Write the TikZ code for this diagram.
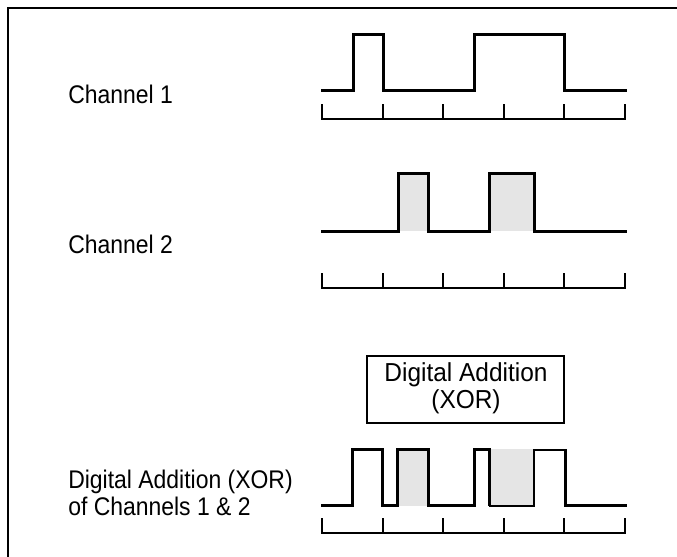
\documentclass[tikz,border=0pt]{standalone}
\usepackage{fontspec}
\setmainfont{Liberation Sans}[FakeStretch=0.9]
\newfontfamily\boxfont{Liberation Sans}[FakeStretch=0.94]
\definecolor{pulsegray}{RGB}{229,229,229}
\begin{document}
\begin{tikzpicture}[x=0.75pt,y=-0.75pt,line join=miter,
  sig/.style={line width=2.25pt},
  thinsig/.style={line width=1.3pt},
  tickline/.style={line width=1.5pt},
  frameline/.style={line width=1.5pt},
  lbl/.style={inner sep=0pt,anchor=base west,align=left,font=\fontsize{19.125pt}{20.25pt}\selectfont},
  boxtxt/.style={inner sep=0pt,anchor=base,align=center,font=\boxfont\fontsize{19.5pt}{20.25pt}\selectfont},
  opbox/.style={draw,line width=1.5pt,inner sep=0pt,minimum width=147.75pt,minimum height=50.1pt}]
\useasboundingbox (0,0) rectangle (677,556);
% frame
\draw[frameline] (8,560) -- (8,8.3) -- (680,8.3);
% gray fills
\fill[pulsegray] (398.3,173.3) rectangle (428.3,231);
\fill[pulsegray] (489.3,173.3) rectangle (534.3,231);
\fill[pulsegray] (399,449.3) rectangle (427,505.7);
\fill[pulsegray] (490,449.3) rectangle (533,505.7);
% time scales
\foreach \t/\b in {104.3/118.7, 273.3/287.7, 518.3/533.3}{
  \draw[tickline] (322.2,\t) -- (322.2,\b) -- (624.7,\b) -- (624.7,\t);
  \foreach \x in {383.2,443.2,503.5,564}
    \draw[tickline] (\x,\t) -- (\x,\b);
}
% channel 1
\draw[sig] (321,91) -- (353.3,91) -- (353.3,34.3) -- (383.3,34.3) -- (383.3,91)
  -- (474.3,91) -- (474.3,34.3) -- (564.3,34.3) -- (564.3,91) -- (626.7,91);
% channel 2
\draw[sig] (321,231) -- (398.3,231) -- (398.3,173.3) -- (428.3,173.3) -- (428.3,231)
  -- (489.3,231) -- (489.3,173.3) -- (534.3,173.3) -- (534.3,231) -- (626.7,231);
% XOR
\draw[sig] (321,505.7) -- (352.3,505.7) -- (352.3,449.3) -- (382.3,449.3) -- (382.3,505.7)
  -- (397.3,505.7) -- (397.3,449.3) -- (428.3,449.3) -- (428.3,505.7)
  -- (474.3,505.7) -- (474.3,449.3) -- (489.3,449.3) -- (489.3,505.7);
\draw[thinsig] (489.3,505.7) -- (534.3,505.7) -- (534.3,450) -- (565,450);
\draw[sig] (565,449.3) -- (565,505.7) -- (626.7,505.7);
% labels
\node[lbl] (ch1) at (68,104) {Channel 1};
\node[lbl] (ch2) at (68,253) {Channel 2};
\node[lbl] (xorlbl) at (68,515) {Digital Addition (XOR)\\of Channels 1 \& 2};
% operation box
\node[opbox] (xorbox) at (465.5,389.1) {};
\node[boxtxt] (xortext) at (466,408) {Digital Addition\\(XOR)};
\end{tikzpicture}
\end{document}
